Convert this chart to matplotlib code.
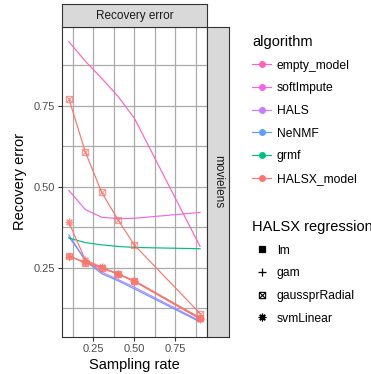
import matplotlib
matplotlib.use("Agg")
import matplotlib.pyplot as plt
from matplotlib.lines import Line2D
from matplotlib.path import Path

plt.rcParams['font.family'] = ['Liberation Sans', 'DejaVu Sans']

# data
sampling_rate = [0.1, 0.2, 0.3, 0.4, 0.5, 0.9]

algorithms = ['empty_model', 'softImpute', 'HALS', 'NeNMF', 'grmf', 'HALSX_model']
algo_colors = ['#FF62BC', '#F564E3', '#C77CFF', '#619CFF', '#00BF7D', '#F8766D']

empty_model = [0.948, 0.888, 0.835, 0.779, 0.711, 0.316]
soft_impute = [0.489, 0.430, 0.406, 0.402, 0.403, 0.421]
hals = [0.345, 0.276, 0.237, 0.214, 0.190, 0.086]
nenmf = [0.352, 0.272, 0.232, 0.210, 0.185, 0.083]
grmf = [0.342, 0.328, 0.321, 0.316, 0.313, 0.309]

regressions = ['lm', 'gam', 'gaussprRadial', 'svmLinear']
halsx_lm = [0.288, 0.264, 0.249, 0.231, 0.210, 0.096]
halsx_gam = [0.285, 0.268, 0.251, 0.232, 0.209, 0.094]
halsx_gauss = [0.772, 0.608, 0.483, 0.398, 0.320, 0.109]
halsx_svm = [0.390, 0.275, 0.252, 0.230, 0.208, 0.092]

# square with a cross in it (ggplot shape 7)
sq_cross = Path([(-1, -1), (1, -1), (1, 1), (-1, 1), (-1, -1),
                 (-1, -1), (1, 1), (-1, 1), (1, -1)],
                [Path.MOVETO, Path.LINETO, Path.LINETO, Path.LINETO, Path.CLOSEPOLY,
                 Path.MOVETO, Path.LINETO, Path.MOVETO, Path.LINETO])
reg_markers = ['s', '+', sq_cross, (8, 2, 0)]
reg_sizes = [5, 6, 4.5, 5.5]

fig = plt.figure(figsize=(3.71, 3.74), dpi=100)
ax = fig.add_axes([0.168, 0.0997, 0.389, 0.8283])

grid_col = '#ABABAB'
border = '#333333'

lw = 0.85
other = [empty_model, soft_impute, hals, nenmf, grmf]
for vals, col in zip(other, algo_colors[:5]):
    ax.plot(sampling_rate, vals, color=col, lw=lw, zorder=3)

halsx_col = algo_colors[5]
for vals, mk, ms in zip([halsx_lm, halsx_gam, halsx_gauss, halsx_svm], reg_markers, reg_sizes):
    ax.plot(sampling_rate, vals, color=halsx_col, lw=lw, zorder=4)
    if mk is sq_cross:
        ax.plot(sampling_rate, vals, ls='none', marker=mk, ms=ms, mfc='none',
                mec=halsx_col, mew=0.8, alpha=0.75, zorder=5)
    else:
        ax.plot(sampling_rate, vals, ls='none', marker=mk, ms=ms, color=halsx_col,
                mew=0.9, alpha=0.75, zorder=5)

ax.set_xlim(0.06, 0.94)
ax.set_ylim(0.0375, 0.9935)
ax.set_xticks([0.25, 0.5, 0.75])
ax.set_xticklabels(['0.25', '0.50', '0.75'])
ax.set_yticks([0.25, 0.5, 0.75])
ax.set_yticklabels(['0.25', '0.50', '0.75'])
ax.set_xticks([0.125, 0.375, 0.625, 0.875], minor=True)
ax.set_yticks([0.125, 0.375, 0.625, 0.875], minor=True)
ax.grid(True, which='both', color=grid_col, lw=0.9)
ax.set_axisbelow(True)
ax.tick_params(which='major', length=3, width=0.8, color=border,
               labelsize=8, labelcolor='#4D4D4D', pad=2)
ax.tick_params(which='minor', length=0)
for sp in ax.spines.values():
    sp.set_color(border)
    sp.set_linewidth(0.8)
ax.set_xlabel('Sampling rate', fontsize=10.5, labelpad=3)
ax.set_ylabel('Recovery error', fontsize=10.5, labelpad=5)

# facet strips
top = fig.add_axes([0.168, 0.9283, 0.389, 0.0599])
right = fig.add_axes([0.557, 0.0997, 0.061, 0.8283])
for s in (top, right):
    s.set_facecolor('#D9D9D9')
    s.set_xticks([])
    s.set_yticks([])
    for sp in s.spines.values():
        sp.set_color(border)
        sp.set_linewidth(0.8)
top.text(0.5, 0.5, 'Recovery error', ha='center', va='center', fontsize=8.5,
         color='#1A1A1A', transform=top.transAxes)
right.text(0.5, 0.5, 'movielens', ha='center', va='center', fontsize=8.5,
           rotation=-90, color='#1A1A1A', transform=right.transAxes)

# legends
algo_handles = [Line2D([], [], color=c, lw=lw, marker='o', ms=4) for c in algo_colors]
fig.legend(algo_handles, algorithms, title='algorithm', loc='upper left',
           bbox_to_anchor=(252 / 371, 1 - 35 / 374), frameon=False, fontsize=8.7,
           title_fontsize=10.5, alignment='left', handlelength=1.6,
           handletextpad=0.45, labelspacing=0.88, borderpad=0, borderaxespad=0)

reg_handles = []
for mk, ms in zip(reg_markers, reg_sizes):
    if mk is sq_cross:
        reg_handles.append(Line2D([], [], ls='none', marker=mk, ms=ms, mfc='none',
                                  mec='black', mew=0.8))
    else:
        reg_handles.append(Line2D([], [], ls='none', marker=mk, ms=ms, color='black', mew=0.9))
fig.legend(reg_handles, regressions, title='HALSX regression', loc='upper left',
           bbox_to_anchor=(252 / 371, 1 - 220 / 374), frameon=False, fontsize=8.7,
           title_fontsize=10.5, alignment='left', handlelength=1.6,
           handletextpad=0.45, labelspacing=0.88, borderpad=0, borderaxespad=0)

fig.savefig('out.png', dpi=100)
